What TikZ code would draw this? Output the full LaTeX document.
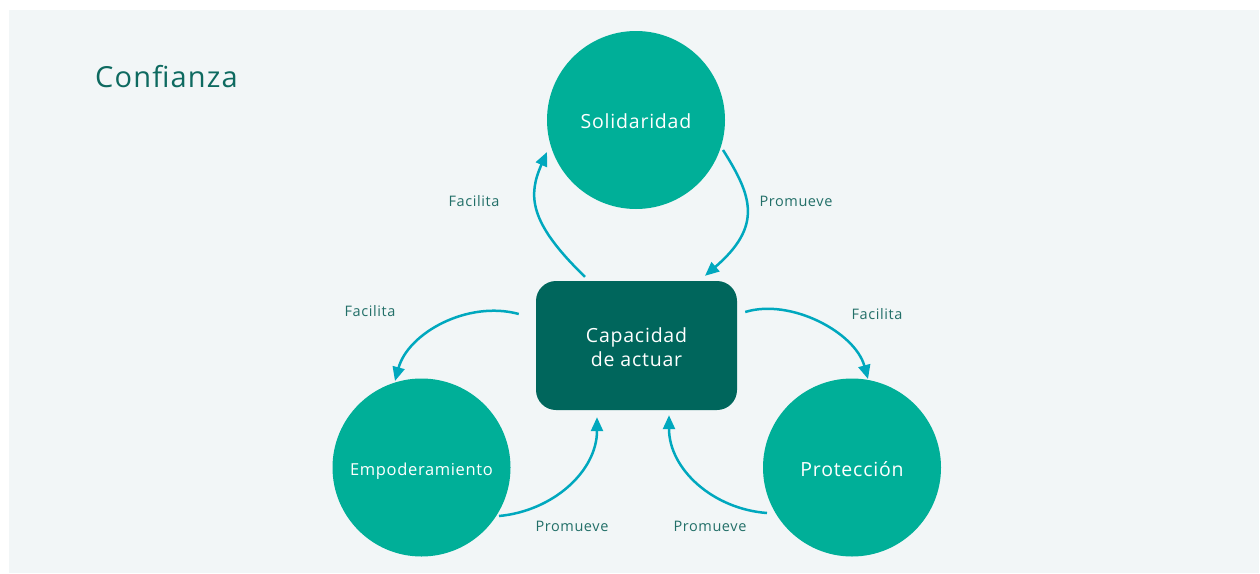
\documentclass[tikz,border=0pt]{standalone}
\usepackage{fontspec}
\setmainfont{Open Sans}[LetterSpace=4]
\usetikzlibrary{arrows.meta,calc}
\definecolor{panel}{HTML}{F2F6F7}
\definecolor{circ}{HTML}{00AF98}
\definecolor{boxc}{HTML}{00665C}
\definecolor{flowc}{HTML}{00A8BE}
\definecolor{labc}{HTML}{226F68}
\definecolor{titlec}{HTML}{0E6A60}
% lower a text without changing the size it reports to its node
\newcommand{\dropby}[2]{\raisebox{-#1}[\height][\depth]{#2}}
\begin{document}
\begin{tikzpicture}[x=1pt,y=-1pt,
  bubble/.style={circle,fill=circ,draw=none,minimum size=178pt,inner sep=0pt,text=white,font=\fontsize{19.5}{22}\selectfont},
  core/.style={rectangle,rounded corners=20pt,fill=boxc,draw=none,minimum width=201pt,minimum height=129pt,text=white,align=center,font=\fontsize{19.5}{24}\selectfont},
  flow/.style={draw=flowc,line width=2.5pt,-{Triangle[length=14pt,width=12pt]}},
  lab/.style={text=labc,font=\fontsize{14.5}{16}\selectfont,inner sep=0pt}]
  % page and panel
  \fill[white] (0,0) rectangle (1260,573);
  \fill[panel] (9,10) rectangle (1259,573);
  \useasboundingbox (0,0) rectangle (1260,573);

  % title
  \node[text=titlec,font=\fontsize{29}{32}\selectfont,anchor=base west,inner sep=0pt] (title) at (95,87) {Confianza};

  % nodes
  \node[bubble] (sol) at (636,120) {\dropby{1.5pt}{Solidaridad}};
  \node[bubble,font=\fontsize{16.5}{18}\selectfont] (emp) at (421.5,467.5) {\dropby{3.5pt}{Empoderamiento}};
  \node[bubble] (prot) at (852,467.5) {\dropby{2pt}{Protección}};
  \node[core] (box) at (636.5,345.5) {\dropby{2pt}{Capacidad}\\\dropby{2pt}{de actuar}};

  % connectors
  \draw[flow] ($(box.north)+(-51.5,-4)$) .. controls +(-57,-55) and +(-19,43) .. ($(sol.center)+(-89,32)$);
  \draw[flow] ($(sol.center)+(87,30)$) .. controls +(29,46) and +(58,-50) .. ($(box.north)+(68.5,-5)$);
  \draw[flow] ($(box.west)+(-17,-31.5)$) .. controls +(-51,-14) and +(13,-48) .. ($(emp.center)+(-26.5,-86.5)$);
  \draw[flow] ($(box.east)+(8,-33.5)$) .. controls +(45,-14) and +(-13,-47) .. ($(prot.center)+(16,-88.5)$);
  \draw[flow] ($(emp.center)+(77.5,48.5)$) .. controls +(54,-5) and +(0,54) .. ($(box.south)+(-39.5,7)$);
  \draw[flow] ($(prot.center)+(-85,45.5)$) .. controls +(-54,-4) and +(0,54) .. ($(box.south)+(32.5,5)$);

  % connector labels
  \node[lab] (l1) at (474,201) {Facilita};
  \node[lab] (l2) at (796,201) {Promueve};
  \node[lab] (l3) at (370,311) {Facilita};
  \node[lab] (l4) at (877,314) {Facilita};
  \node[lab] (l5) at (572,526) {Promueve};
  \node[lab] (l6) at (710,526) {Promueve};
\end{tikzpicture}
\end{document}
